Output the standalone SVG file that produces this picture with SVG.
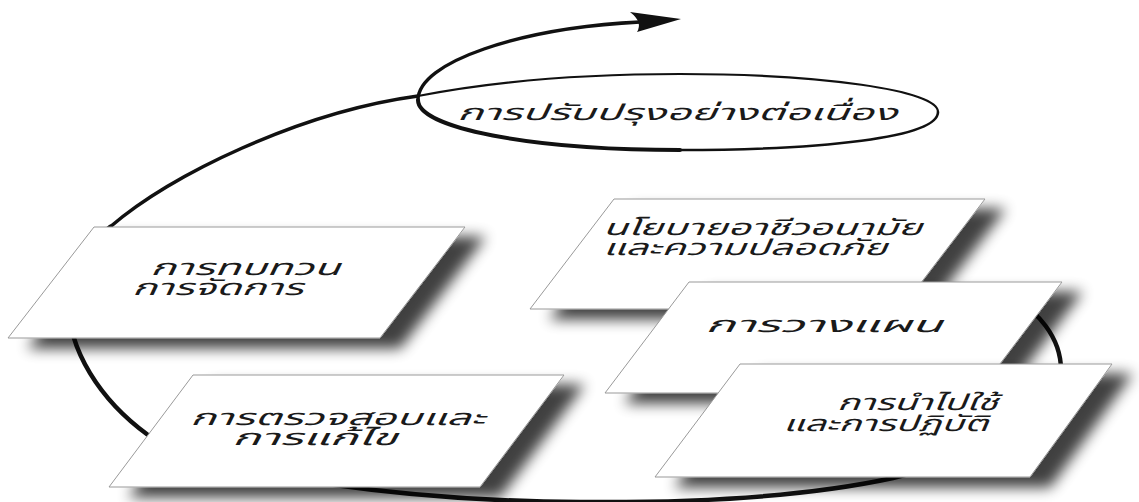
<svg xmlns="http://www.w3.org/2000/svg" width="1139" height="502" viewBox="0 0 1139 502">
<defs>
<style>
.arc{fill:none;stroke:#111;stroke-linecap:round;stroke-linejoin:round}
.box{fill:#fff;stroke:#999;stroke-width:1;filter:url(#sh)}
.lbl{font-family:"Noto Sans Thai","Noto Sans",sans-serif;font-size:22px;font-style:italic;fill:#1a1a1a}
</style>
<filter id="sh" x="-10%" y="-20%" width="130%" height="160%">
<feGaussianBlur in="SourceAlpha" stdDeviation="7"/>
<feOffset dx="20" dy="10" result="o"/>
<feComponentTransfer><feFuncA type="linear" slope="0.75"/></feComponentTransfer>
<feMerge><feMergeNode/><feMergeNode in="SourceGraphic"/></feMerge>
</filter>
</defs>
<rect width="1139" height="502" fill="#fff"/>
<g id="connectors">
<path class="arc" stroke-width="4.5" d="M1000,292 C1040,308 1061,340 1061,370 C1061,410 990,455 893,478 C800,498 690,503 580,502 C420,501 230,480 148,435 C100,400 68,350 68,300 C68,270 85,245 110,227"/>
<path class="arc" stroke-width="3.5" d="M110,227 C170,175 300,112 418,96"/>
<path class="arc" stroke-width="2.2" d="M418,96 C500,80 590,74 680,74 C820,74 938,90 938,112"/>
<path class="arc" stroke-width="2.6" d="M938,112 C938,138 820,150 680,150"/>
<path class="arc" stroke-width="4" d="M680,150 C530,150 418,128 418,100"/>
<path class="arc" stroke-width="3.4" d="M418,100 C418,62 520,28 640,22"/>
<path d="M681,19 L630,12 Q643,22 637,32 Z" fill="#111"/>
</g>
<g id="n-ellipse">
<text class="lbl" x="457" y="120" textLength="440" lengthAdjust="spacingAndGlyphs">การปรับปรุงอย่างต่อเนื่อง</text>
</g>
<g id="n-review">
<polygon class="box" points="94,227 465,227 380,338 8,338"/>
<text class="lbl" x="150" y="275" textLength="190" lengthAdjust="spacingAndGlyphs">การทบทวน</text>
<text class="lbl" x="132" y="295" textLength="171" lengthAdjust="spacingAndGlyphs">การจัดการ</text>
</g>
<g id="n-check">
<polygon class="box" points="193,375 564,375 480,487 109,487"/>
<text class="lbl" x="190" y="425" textLength="295" lengthAdjust="spacingAndGlyphs">การตรวจสอบและ</text>
<text class="lbl" x="232" y="445" textLength="165" lengthAdjust="spacingAndGlyphs">การแก้ไข</text>
</g>
<g id="n-policy">
<polygon class="box" points="614,199 985,199 901,309 530,309"/>
<text class="lbl" x="603" y="235" textLength="319" lengthAdjust="spacingAndGlyphs">นโยบายอาชีวอนามัย</text>
<text class="lbl" x="603" y="255" textLength="284" lengthAdjust="spacingAndGlyphs">และความปลอดภัย</text>
</g>
<g id="n-plan">
<polygon class="box" points="689,282 1062,282 978,393 605,393"/>
<text class="lbl" x="705" y="332" textLength="237" lengthAdjust="spacingAndGlyphs">การวางแผน</text>
</g>
<g id="n-do">
<polygon class="box" points="740,364 1112,364 1030,477 655,477"/>
<text class="lbl" x="837" y="410" textLength="161" lengthAdjust="spacingAndGlyphs">การนำไปใช้</text>
<text class="lbl" x="783" y="431" textLength="205" lengthAdjust="spacingAndGlyphs">และการปฏิบัติ</text>
</g>
</svg>
